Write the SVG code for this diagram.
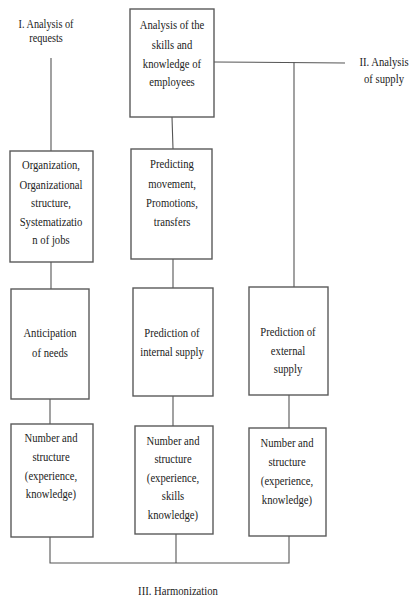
<svg xmlns="http://www.w3.org/2000/svg" width="412" height="597" viewBox="0 0 412 597">
<style>
.box{fill:#fff;stroke:#5a5a5a;stroke-width:1.4}
.ln{fill:none;stroke:#555;stroke-width:1.1}
text{font-family:"Liberation Serif","Times New Roman",serif;font-size:13px;fill:#222;text-anchor:middle}
</style>
<rect width="412" height="597" fill="#fff"/>
<g id="connectors">
<line class="ln" x1="51" y1="58" x2="51" y2="151"/>
<line class="ln" x1="214" y1="62" x2="345" y2="63"/>
<line class="ln" x1="294" y1="62" x2="294" y2="287"/>
<line class="ln" x1="172" y1="117" x2="173" y2="149"/>
<line class="ln" x1="51" y1="262" x2="51" y2="289"/>
<line class="ln" x1="173" y1="259" x2="173" y2="288"/>
<line class="ln" x1="50" y1="399" x2="50" y2="424"/>
<line class="ln" x1="173" y1="396" x2="173" y2="426" stroke="#aaa"/>
<line class="ln" x1="289" y1="395" x2="289" y2="428"/>
<polyline class="ln" points="50,537 50,563 289,563 289,536"/>
<line class="ln" x1="176" y1="534" x2="176" y2="563"/>
</g>
<g id="label-requests">
<text transform="translate(46,0) scale(0.82,1)" x="0" y="28" style="font-size:12.5px">I. Analysis of</text>
<text transform="translate(46,0) scale(0.82,1)" x="0" y="42" style="font-size:12.5px">requests</text>
</g>
<g id="label-supply">
<text transform="translate(384,0) scale(0.82,1)" x="0" y="66">II. Analysis</text>
<text transform="translate(384,0) scale(0.82,1)" x="0" y="83">of supply</text>
</g>
<g id="skills">
<rect class="box" x="130" y="9" width="84" height="108"/>
<g transform="translate(172,0) scale(0.82,1)">
<text x="0" y="29">Analysis of the</text>
<text x="0" y="49">skills and</text>
<text x="0" y="68">knowledge of</text>
<text x="0" y="86">employees</text>
</g>
</g>
<g id="organization">
<rect class="box" x="10" y="151" width="83" height="111"/>
<g transform="translate(51,0) scale(0.82,1)">
<text x="0" y="169">Organization,</text>
<text x="0" y="189">Organizational</text>
<text x="0" y="207">structure,</text>
<text x="0" y="226">Systematizatio</text>
<text x="0" y="244">n of jobs</text>
</g>
</g>
<g id="predicting">
<rect class="box" x="131" y="149" width="81" height="110"/>
<g transform="translate(172,0) scale(0.82,1)">
<text x="0" y="168">Predicting</text>
<text x="0" y="188">movement,</text>
<text x="0" y="207">Promotions,</text>
<text x="0" y="226">transfers</text>
</g>
</g>
<g id="anticipation">
<rect class="box" x="11" y="289" width="78" height="110"/>
<g transform="translate(50,0) scale(0.82,1)">
<text x="0" y="337">Anticipation</text>
<text x="0" y="357">of needs</text>
</g>
</g>
<g id="internal">
<rect class="box" x="133" y="288" width="80" height="108"/>
<g transform="translate(172,0) scale(0.82,1)">
<text x="0" y="337">Prediction of</text>
<text x="0" y="356">internal supply</text>
</g>
</g>
<g id="external">
<rect class="box" x="249" y="287" width="79" height="108"/>
<g transform="translate(288,0) scale(0.82,1)">
<text x="0" y="336">Prediction of</text>
<text x="0" y="355">external</text>
<text x="0" y="373">supply</text>
</g>
</g>
<g id="number-left">
<rect class="box" x="11" y="424" width="82" height="113"/>
<g transform="translate(51,0) scale(0.82,1)">
<text x="0" y="442">Number and</text>
<text x="0" y="461">structure</text>
<text x="0" y="480">(experience,</text>
<text x="0" y="498">knowledge)</text>
</g>
</g>
<g id="number-middle">
<rect class="box" x="135" y="426" width="78" height="108"/>
<g transform="translate(173,0) scale(0.82,1)">
<text x="0" y="445">Number and</text>
<text x="0" y="463">structure</text>
<text x="0" y="482">(experience,</text>
<text x="0" y="500">skills</text>
<text x="0" y="519">knowledge)</text>
</g>
</g>
<g id="number-right">
<rect class="box" x="249" y="428" width="77" height="108"/>
<g transform="translate(287,0) scale(0.82,1)">
<text x="0" y="447">Number and</text>
<text x="0" y="466">structure</text>
<text x="0" y="485">(experience,</text>
<text x="0" y="504">knowledge)</text>
</g>
</g>
<g id="label-harmonization">
<text transform="translate(178,0) scale(0.82,1)" x="0" y="595">III. Harmonization</text>
</g>
</svg>
